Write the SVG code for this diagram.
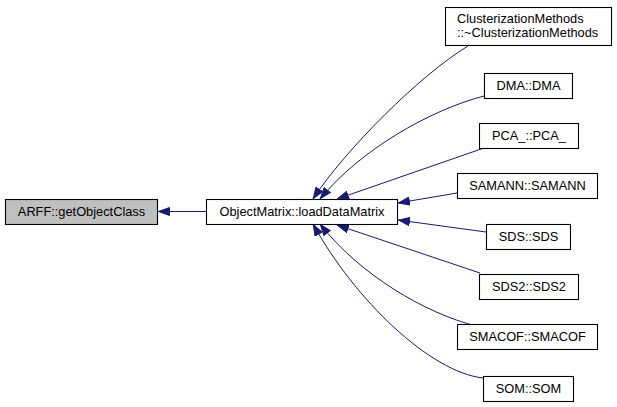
<svg xmlns="http://www.w3.org/2000/svg" width="617" height="407" viewBox="0 0 617 407">
<style>
.n rect{fill:#ffffff;stroke:#000000;stroke-width:1.1}
.n.cur rect{fill:#bfbfbf}
.n text{font-family:"Liberation Sans",Arial,sans-serif;font-size:12.8px;fill:#000000}
.c{text-anchor:middle}
.e path{fill:none;stroke:#191970;stroke-width:1;marker-end:url(#ah)}
</style>
<defs>
<marker id="ah" viewBox="0 0 12 9" refX="12" refY="4.5" markerUnits="userSpaceOnUse" markerWidth="12" markerHeight="9" orient="auto">
<path d="M0.5,0.5 L11.5,4.5 L0.5,8.5 z" fill="#191970" stroke="#191970" stroke-width="1"/>
</marker>
</defs>
<rect width="617" height="407" fill="#ffffff"/>
<g id="edges" class="e">
<path d="M206,211.5 L158,211.5"/>
<path d="M468,46 C420,75 345,150 313,199"/>
<path d="M484,96 C430,110 360,150 320,199"/>
<path d="M484,148 L337,199"/>
<path d="M457,193 L398,203"/>
<path d="M486,232 L398,220"/>
<path d="M480,273 L337,225"/>
<path d="M476,326 C425,313 360,275 320,224"/>
<path d="M483,378 C430,372 355,300 313,224"/>
</g>
<g id="node-arff" class="n cur"><rect x="5.5" y="199.5" width="152" height="25"/><text class="c" x="81.5" y="216">ARFF::getObjectClass</text></g>
<g id="node-objectmatrix" class="n"><rect x="206.5" y="199.5" width="191" height="25"/><text class="c" x="302" y="216">ObjectMatrix::loadDataMatrix</text></g>
<g id="node-clusterization" class="n"><rect x="445.5" y="7.5" width="166" height="38"/><text x="457" y="22.5">ClusterizationMethods</text><text x="457" y="37">::~ClusterizationMethods</text></g>
<g id="node-dma" class="n"><rect x="484.5" y="73.5" width="88" height="25"/><text class="c" x="528.5" y="90">DMA::DMA</text></g>
<g id="node-pca" class="n"><rect x="479.5" y="123.5" width="99" height="25"/><text class="c" x="529" y="140">PCA_::PCA_</text></g>
<g id="node-samann" class="n"><rect x="457.5" y="173.5" width="140" height="25"/><text class="c" x="527.5" y="190">SAMANN::SAMANN</text></g>
<g id="node-sds" class="n"><rect x="486.5" y="224.5" width="84" height="25"/><text class="c" x="528.5" y="241">SDS::SDS</text></g>
<g id="node-sds2" class="n"><rect x="479.5" y="274.5" width="99" height="25"/><text class="c" x="529" y="291">SDS2::SDS2</text></g>
<g id="node-smacof" class="n"><rect x="457.5" y="324.5" width="140" height="25"/><text class="c" x="527.5" y="341">SMACOF::SMACOF</text></g>
<g id="node-som" class="n"><rect x="483.5" y="376.5" width="90" height="25"/><text class="c" x="528.5" y="393">SOM::SOM</text></g>
</svg>
